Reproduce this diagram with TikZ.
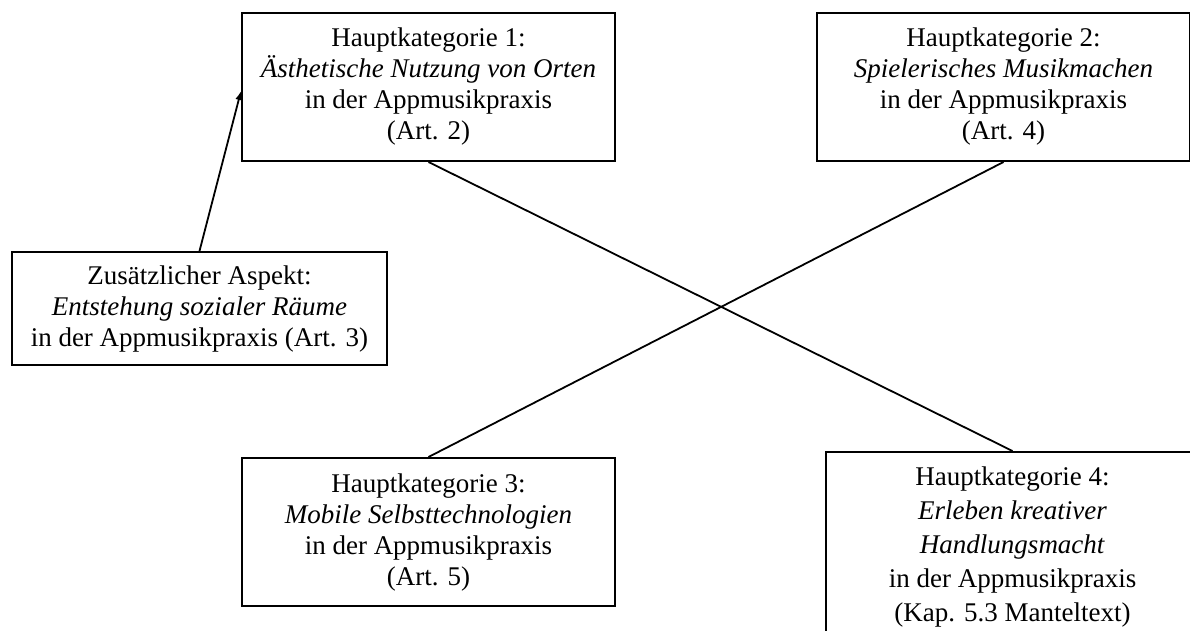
\documentclass[tikz,border=0pt]{standalone}
\usepackage{fontspec}
\setmainfont{Liberation Serif}
\usepackage{tikz}
\usetikzlibrary{positioning}
\usetikzlibrary{arrows.meta}
\tikzset{
  kategorie/.style={
    draw, line width=2pt, align=center, inner sep=0pt,
    minimum width=373pt, minimum height=148pt,
    font=\fontsize{27}{31}\selectfont,
  },
  kreuz edge/.style={
    line width=1.8pt,
  },
  zusatz edge/.style={
    -{Latex[length=9pt,width=7pt]}, line width=1.8pt,
  },
}

\begin{document}
\begin{tikzpicture}[x=1pt, y=-1pt, node distance=200pt]
  \clip (0,0) rectangle (1190,630);

  % Define nodes
  \node[kategorie, anchor=north west] (kat_1) at (241,12)
    {Hauptkategorie 1:\\ \textit{Ästhetische Nutzung von Orten}\\ in der Appmusikpraxis\\ (Art. 2)};
  \node[kategorie, right=of kat_1] (kat_2)
    {Hauptkategorie 2:\\ \textit{Spielerisches Musikmachen}\\ in der Appmusikpraxis\\ (Art. 4)};
  \node[kategorie, below=295pt of kat_1] (kat_3)
    {Hauptkategorie 3:\\ \textit{Mobile Selbsttechnologien}\\ in der Appmusikpraxis\\ (Art. 5)};
  \node[kategorie, minimum height=190pt, font=\fontsize{27}{34}\selectfont,
        below=289pt of kat_2, xshift=9pt] (kat_4)
    {Hauptkategorie 4:\\ \textit{Erleben kreativer}\\ \textit{Handlungsmacht}\\ in der Appmusikpraxis\\ (Kap. 5.3 Manteltext)};

  \node[kategorie, minimum width=375pt, minimum height=113pt, anchor=north west] (zusatz) at (11,251)
    {Zusätzlicher Aspekt:\\ \textit{Entstehung sozialer Räume}\\ in der Appmusikpraxis (Art. 3)};

  % Connect nodes
  \draw[kreuz edge] (kat_1.south) -- (kat_4.north);
  \draw[kreuz edge] (kat_2.south) -- (kat_3.north);

  \draw[zusatz edge] (zusatz.north) -- ([yshift=-4pt]kat_1.west);

\end{tikzpicture}
\end{document}
